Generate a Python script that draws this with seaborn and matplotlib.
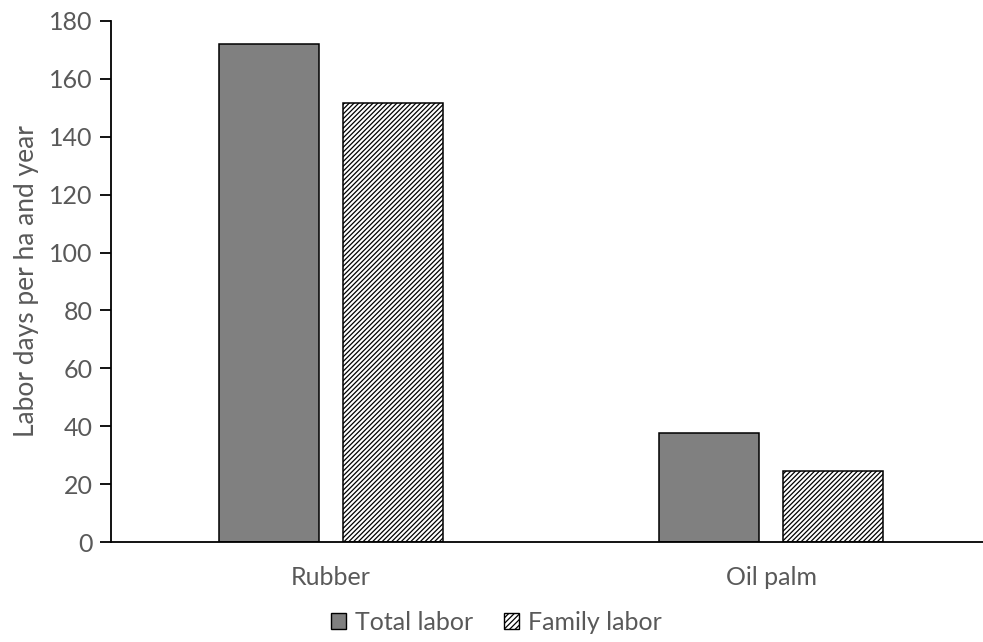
import matplotlib
matplotlib.use("Agg")
import matplotlib.pyplot as plt
import seaborn as sns
import pandas as pd
from matplotlib.patches import Patch

crops = ["Rubber", "Oil palm"]
labor_types = ["Total labor", "Family labor"]
# values per crop: (total, family)
rubber_vals = [172, 151.5]
oilpalm_vals = [37.8, 24.5]
y_ticks = [0, 20, 40, 60, 80, 100, 120, 140, 160, 180]

df = pd.DataFrame({
    "crop": [crops[0], crops[0], crops[1], crops[1]],
    "labor": labor_types * 2,
    "days": rubber_vals + oilpalm_vals,
})

sns.set_theme(style="white")
plt.rcParams["font.family"] = ["Lato", "DejaVu Sans"]
plt.rcParams["hatch.linewidth"] = 0.9
plt.rcParams["hatch.color"] = "#303030"

text_color = "#595959"
hatch = "///////"

fig = plt.figure(figsize=(9.83, 6.42), dpi=100)
# plot area runs slightly past the right edge of the canvas
ax = fig.add_axes([111 / 983, 1 - 542 / 642, (991 - 111) / 983, (542 - 21) / 642])

sns.barplot(data=df, x="crop", y="days", hue="labor", order=crops,
            hue_order=labor_types, palette=["#808080", "white"],
            width=0.568, gap=0.2, edgecolor="black", linewidth=1.1,
            legend=False, ax=ax)

# hatch the family-labor bars
for bar in ax.containers[1]:
    bar.set_hatch(hatch)

ax.set_ylim(0, 180)
ax.set_xlim(-0.5, 1.5)
ax.set_yticks(y_ticks)
ax.set_xlabel("")
ax.set_ylabel("Labor days per ha and year", color=text_color, fontsize=19)
ax.yaxis.set_label_coords(-0.082, 0.5)

for side in ["top", "right"]:
    ax.spines[side].set_visible(False)
for side in ["left", "bottom"]:
    ax.spines[side].set_color("black")
    ax.spines[side].set_linewidth(1.3)

ax.tick_params(axis="y", which="major", length=8, width=1.3, color="black",
               labelcolor=text_color, labelsize=18, left=True, direction="out", pad=5)
ax.tick_params(axis="x", length=0, labelcolor=text_color, labelsize=18, pad=17)

handles = [Patch(facecolor="#808080", edgecolor="black", linewidth=1.0),
           Patch(facecolor="white", edgecolor="black", linewidth=1.0, hatch="//////")]
fig.legend(handles, labor_types, loc="center", bbox_to_anchor=(496 / 983, 1 - 622 / 642),
           ncol=2, frameon=False, fontsize=18, labelcolor=text_color,
           handlelength=0.6, handleheight=0.6, handletextpad=0.36, columnspacing=1.24,
           borderpad=0)

fig.savefig("out.png", dpi=100)
